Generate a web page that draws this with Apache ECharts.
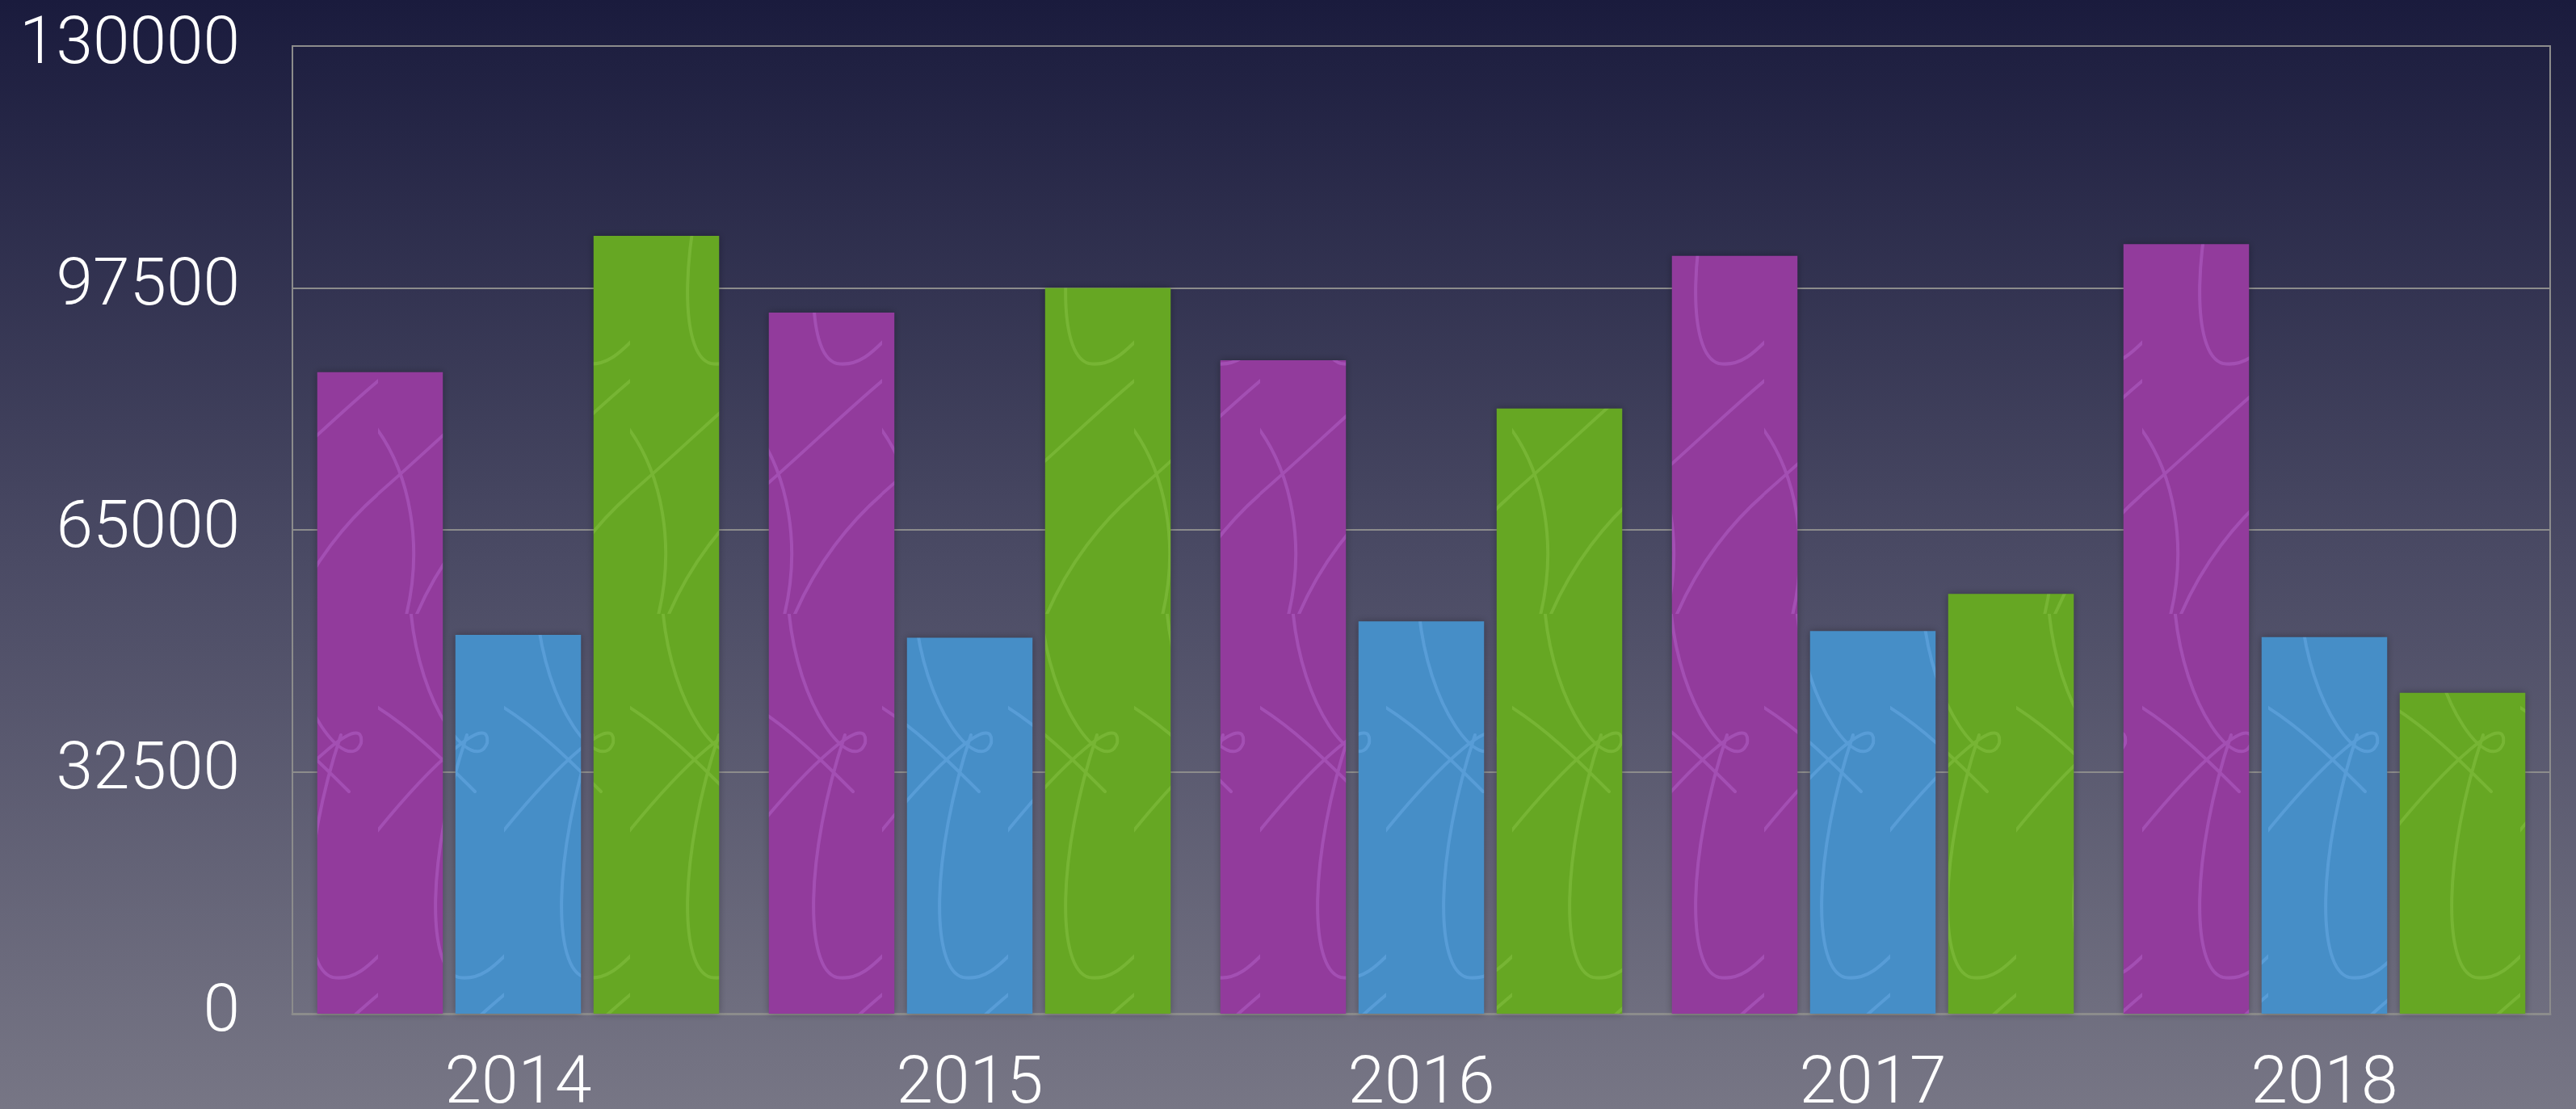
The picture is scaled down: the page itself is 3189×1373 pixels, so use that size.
<!DOCTYPE html>
<html>
<head>
<meta charset="utf-8">
<script src="https://cdn.jsdelivr.net/npm/echarts@6/dist/echarts.min.js"></script>
<style>
html, body { margin: 0; padding: 0; }
#main { width: 3189px; height: 1373px; }
</style>
</head>
<body>
<div id="main"></div>
<script>
// 数据
var years = ['2014', '2015', '2016', '2017', '2018'];
var purpleValues = [86200, 94200, 87800, 101800, 103400];
var blueValues = [50900, 50500, 52700, 51400, 50600];
var greenValues = [104500, 97500, 81300, 56400, 43100];
var yTicks = [0, 32500, 65000, 97500, 130000];

// 柱子上的淡色花纹
function makePattern(base, line) {
    var c = document.createElement('canvas');
    c.width = 156;
    c.height = 760;
    var ctx = c.getContext('2d');
    ctx.fillStyle = base;
    ctx.fillRect(0, 0, c.width, c.height);
    ctx.strokeStyle = line;
    ctx.lineWidth = 4;
    ctx.lineCap = 'round';
    ctx.beginPath();
    // 上方的小结
    ctx.moveTo(40, -10);
    ctx.bezierCurveTo(50, 120, 120, 200, 135, 160);
    ctx.bezierCurveTo(140, 120, 70, 180, -10, 280);
    ctx.moveTo(-10, 110);
    ctx.bezierCurveTo(40, 140, 80, 180, 120, 220);
    // 中间的大弯
    ctx.moveTo(110, 150);
    ctx.bezierCurveTo(60, 300, 60, 440, 100, 450);
    ctx.bezierCurveTo(130, 455, 150, 430, 170, 410);
    // 下方的弧线
    ctx.moveTo(-10, 620);
    ctx.bezierCurveTo(60, 560, 120, 500, 170, 460);
    ctx.moveTo(40, 780);
    ctx.bezierCurveTo(70, 700, 120, 640, 170, 600);
    ctx.moveTo(-10, 520);
    ctx.bezierCurveTo(40, 580, 60, 680, 30, 780);
    ctx.stroke();
    return { image: c, repeat: 'repeat' };
}

var myChart = echarts.init(document.getElementById('main'));

var labelFont = {
    color: '#ffffff',
    fontFamily: 'Roboto',
    fontWeight: 300,
    fontSize: 82
};

function barSeries(name, data, base, line) {
    return {
        name: name,
        type: 'bar',
        data: data,
        barGap: '10%',
        barCategoryGap: '11%',
        itemStyle: {
            color: makePattern(base, line),
            shadowBlur: 10,
            shadowColor: 'rgba(0,0,0,0.3)'
        }
    };
}

var option = {
    backgroundColor: {
        type: 'linear', x: 0, y: 0, x2: 0, y2: 1,
        colorStops: [
            { offset: 0, color: '#1a1b3d' },
            { offset: 0.5, color: '#4a4a64' },
            { offset: 1, color: '#777685' }
        ]
    },
    grid: {
        left: 362,
        right: 32,
        top: 57,
        bottom: 118,
        show: true,
        borderColor: '#8c8c8c',
        borderWidth: 2,
        containLabel: false,
        outerBoundsMode: 'none'
    },
    xAxis: {
        type: 'category',
        data: years,
        axisLine: { lineStyle: { color: '#8c8c8c', width: 3 } },
        axisTick: { show: false },
        axisLabel: Object.assign({ margin: 48 }, labelFont)
    },
    yAxis: {
        type: 'value',
        min: yTicks[0],
        max: yTicks[yTicks.length - 1],
        interval: yTicks[1] - yTicks[0],
        axisLine: { show: true, lineStyle: { color: '#8c8c8c', width: 2 } },
        axisTick: { show: false },
        splitLine: { lineStyle: { color: '#8c8c8c', width: 2 } },
        axisLabel: Object.assign({
            margin: 65,
            formatter: function (v) { return String(v); }
        }, labelFont)
    },
    series: [
        barSeries('a', purpleValues, '#923b9c', 'rgba(190,110,215,0.4)'),
        barSeries('b', blueValues, '#468ec7', 'rgba(110,175,235,0.45)'),
        barSeries('c', greenValues, '#66a723', 'rgba(135,195,70,0.5)')
    ]
};

myChart.setOption(option);
</script>
</body>
</html>
